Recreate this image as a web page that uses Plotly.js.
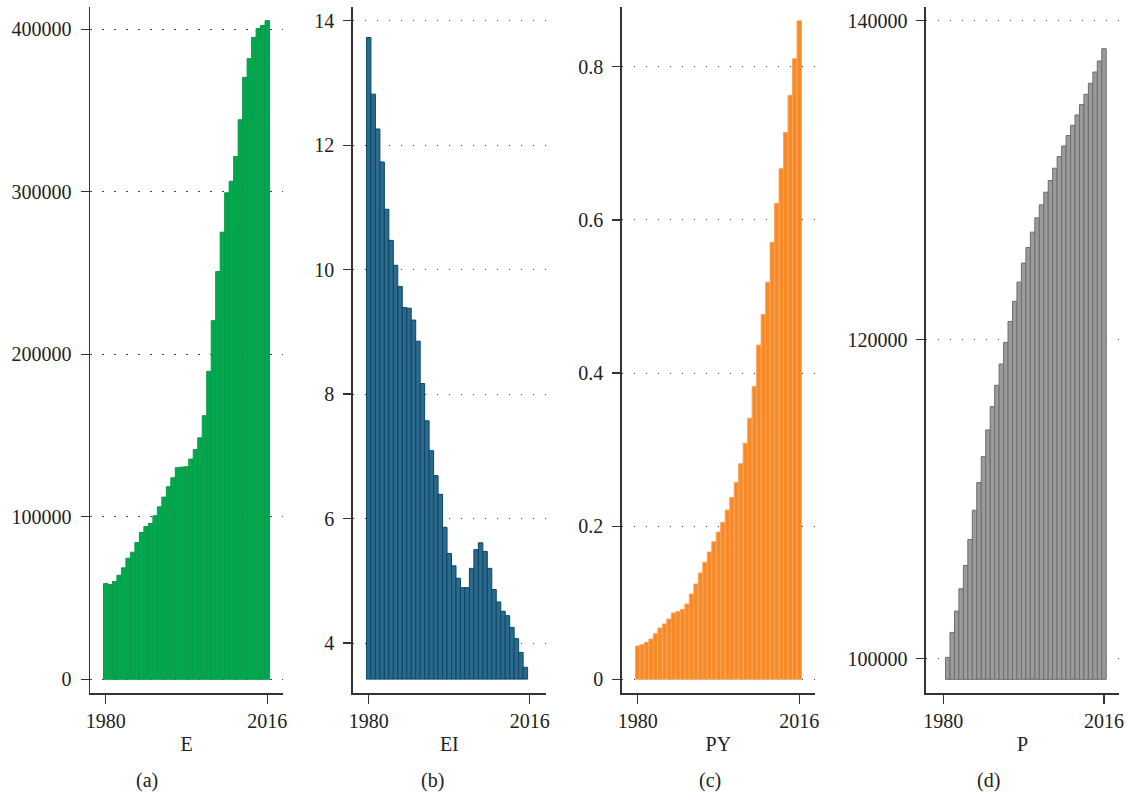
<!DOCTYPE html>
<html>
<head>
<meta charset="utf-8">
<script src="https://cdn.plot.ly/plotly-3.0.1.min.js"></script>
<style>html,body{margin:0;padding:0;background:#fff;}#chart{width:1128px;height:795px;}</style>
</head>
<body>
<div id="chart"></div>
<script>
const years = [1980,1981,1982,1983,1984,1985,1986,1987,1988,1989,1990,1991,1992,1993,1994,1995,1996,1997,1998,1999,2000,2001,2002,2003,2004,2005,2006,2007,2008,2009,2010,2011,2012,2013,2014,2015,2016];
const E = [58900,58300,60150,64050,68570,74500,78200,84200,90300,94000,95900,100600,106100,112100,118500,124000,130200,130600,130800,135500,141400,148600,162200,189500,220700,250900,275100,299400,306500,321700,344300,370400,381900,395000,400400,402400,405300];
const EI = [13.73,12.82,12.26,11.73,10.97,10.47,10.07,9.73,9.39,9.38,9.19,8.85,8.17,7.57,7.09,6.69,6.39,5.86,5.44,5.24,5.04,4.89,4.89,5.20,5.50,5.61,5.47,5.20,4.86,4.66,4.51,4.44,4.25,4.07,3.85,3.61,3.42];
const PY = [0.0435,0.0452,0.0483,0.0526,0.0596,0.0670,0.0722,0.0787,0.0866,0.0883,0.0913,0.0983,0.1113,0.1244,0.1388,0.1527,0.1662,0.1797,0.1923,0.2049,0.2210,0.2375,0.2571,0.2814,0.3084,0.3410,0.3824,0.4365,0.4764,0.5185,0.5706,0.6217,0.6668,0.7141,0.7627,0.8104,0.8599];
const P = [98705,100084,101649,102985,104384,105846,107474,109311,111044,112672,114343,115804,117140,118476,119830,121148,122401,123612,124802,125783,126743,127641,128455,129248,129979,130752,131482,132150,132798,133445,134092,134739,135386,136075,136785,137474,138246];

const xTicks = [1980, 2016];
const xTickText = ['1980', '2016'];
const panelTitles = ['E', 'EI', 'PY', 'P'];
const panelLabels = ['(a)', '(b)', '(c)', '(d)'];
const yTicksE = [0, 100000, 200000, 300000, 400000];
const yTextE = ['0', '100000', '200000', '300000', '400000'];
const yTicksEI = [4, 6, 8, 10, 12, 14];
const yTextEI = ['4', '6', '8', '10', '12', '14'];
const yTicksPY = [0, 0.2, 0.4, 0.6, 0.8];
const yTextPY = ['0', '0.2', '0.4', '0.6', '0.8'];
const yTicksP = [100000, 120000, 140000];
const yTextP = ['100000', '120000', '140000'];

const baseEI = Math.min(...EI);
const baseP = Math.min(...P);

const FONT = 'Liberation Serif, Times New Roman, serif';
const fs = 20;
const TXT = '#222';

function barTrace(vals, base, xa, ya, fill, line) {
  return {
    type: 'bar', x: years, y: vals.map(v => v - base), base: base,
    xaxis: xa, yaxis: ya, width: 1,
    marker: {color: fill, line: {color: line, width: vals.map(v => (v - base) > 0 ? 1 : 0)}},
    hoverinfo: 'skip', showlegend: false
  };
}

const data = [
  barTrace(E, 0, 'x', 'y', '#00a84f', '#0d9a48'),
  barTrace(EI, baseEI, 'x2', 'y2', '#2b6a8d', '#0c4767'),
  barTrace(PY, 0, 'x3', 'y3', '#f78a27', '#f9a45a'),
  barTrace(P, baseP, 'x4', 'y4', '#9b9b9b', '#6e6e6e')
];

const yDom = [0.1283, 0.9908];
const xDoms = [[0.0798, 0.2509], [0.3127, 0.4840], [0.5512, 0.7225], [0.8209, 0.9923]];
const xRanges = [[1976.5, 2019.5], [1976.43, 2019.6], [1976.44, 2019.5], [1976.12, 2019.43]];
const yRanges = [[-8430, 413500], [3.197, 14.215], [-0.0179, 0.8776], [97850, 140840]];
const yTV = [yTicksE, yTicksEI, yTicksPY, yTicksP];
const yTT = [yTextE, yTextEI, yTextPY, yTextP];
const labelX = [147, 432, 710, 988];

const layout = {
  width: 1128, height: 795,
  margin: {l: 0, r: 0, t: 0, b: 0},
  paper_bgcolor: '#fff', plot_bgcolor: '#fff',
  bargap: 0,
  font: {family: FONT, size: fs, color: TXT},
  annotations: [],
  showlegend: false
};

for (let i = 0; i < 4; i++) {
  const sx = i === 0 ? '' : String(i + 1);
  layout['xaxis' + sx] = {
    domain: xDoms[i], range: xRanges[i], anchor: 'y' + sx,
    tickvals: xTicks, ticktext: xTickText,
    ticks: 'outside', ticklen: 9, tickwidth: 1.3, tickcolor: '#333',
    showline: true, linecolor: '#333', linewidth: 1.5,
    showgrid: false, zeroline: false, fixedrange: true,
    tickfont: {family: FONT, size: fs, color: TXT},
    title: {text: panelTitles[i], font: {family: FONT, size: fs, color: TXT}, standoff: 6}
  };
  layout['yaxis' + sx] = {
    domain: yDom, range: yRanges[i], anchor: 'x' + sx,
    tickvals: yTV[i], ticktext: yTT[i],
    ticks: 'outside', ticklen: 8, tickwidth: 1.3, tickcolor: '#333',
    ticklabelstandoff: 5,
    showline: true, linecolor: '#333', linewidth: 1.5,
    showgrid: true, gridcolor: '#444', gridwidth: 1, griddash: '1.5px,10.5px',
    zeroline: false, fixedrange: true,
    tickfont: {family: FONT, size: fs, color: TXT}
  };
  layout.annotations.push({
    xref: 'paper', yref: 'paper', x: labelX[i] / 1128, y: 1 - 780 / 795,
    text: panelLabels[i], showarrow: false, xanchor: 'center', yanchor: 'middle',
    font: {family: FONT, size: fs, color: TXT}
  });
}

Plotly.newPlot('chart', data, layout, {staticPlot: true, displayModeBar: false});
</script>
</body>
</html>
